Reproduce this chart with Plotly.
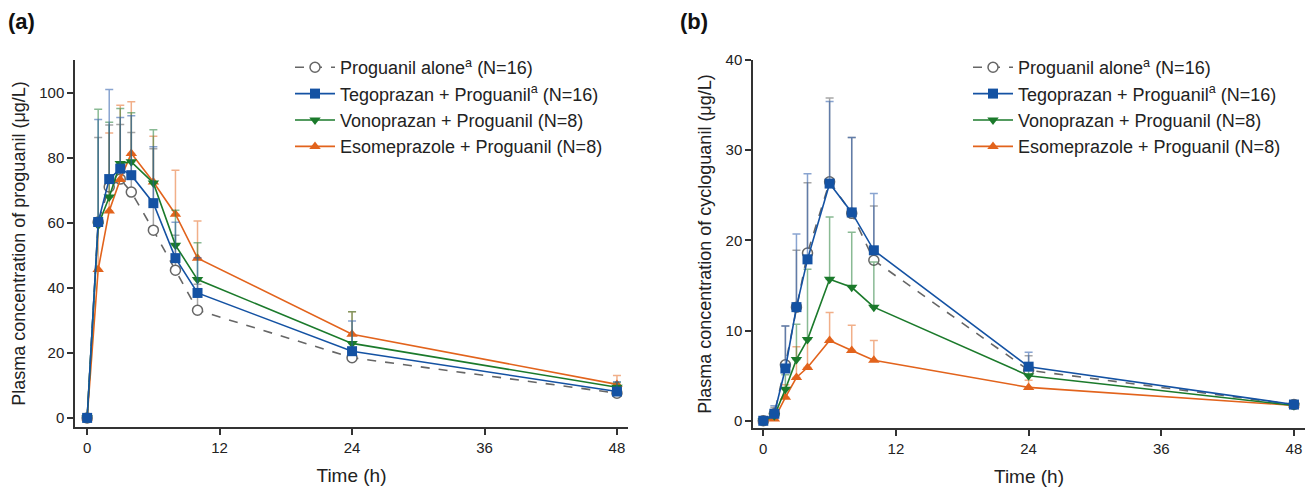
import plotly.graph_objects as go

time_h = [0, 1, 2, 3, 4, 6, 8, 10, 24, 48]

# Panel (a) proguanil (ug/L): mean and upper SD
pa_alone = [0, 60.2, 71.0, 73.4, 69.4, 57.7, 45.4, 33.1, 18.5, 7.6]
pa_alone_sd = [0, 26.0, 19.0, 16.8, 18.3, 25.0, 10.7, 8.0, 7.0, 1.5]
pa_tego = [0, 60.2, 73.4, 76.6, 74.6, 66.0, 49.1, 38.4, 20.5, 8.1]
pa_tego_sd = [0, 31.5, 27.5, 15.7, 18.3, 17.3, 11.0, 10.8, 9.3, 3.0]
pa_vono = [0, 59.2, 67.9, 78.2, 78.7, 72.2, 53.1, 42.5, 22.9, 9.4]
pa_vono_sd = [0, 35.7, 23.0, 16.9, 15.1, 16.4, 10.7, 11.3, 9.7, 1.5]
pa_eso = [0, 45.6, 63.6, 73.3, 81.3, 72.5, 62.6, 49.1, 25.7, 10.3]
pa_eso_sd = [0, 15.7, 24.0, 22.8, 15.9, 14.1, 13.5, 11.4, 6.9, 2.7]

# Panel (b) cycloguanil (ug/L)
pb_alone = [0, 0.78, 6.2, 12.6, 18.6, 26.5, 23.0, 17.8, 5.6, 1.8]
pb_alone_sd = [0, 0.7, 4.3, 6.3, 7.8, 9.3, 8.4, 6.0, 1.6, 0.3]
pb_tego = [0, 0.78, 5.8, 12.6, 17.9, 26.3, 23.1, 18.9, 6.0, 1.8]
pb_tego_sd = [0, 0.9, 4.7, 8.1, 9.5, 9.1, 8.3, 6.3, 1.6, 0.3]
pb_vono = [0, 0.55, 3.5, 6.8, 9.0, 15.7, 14.8, 12.6, 5.0, 1.7]
pb_vono_sd = [0, 0.5, 1.6, 3.9, 7.8, 6.9, 6.1, 5.0, 1.4, 0.3]
pb_eso = [0, 0.2, 2.6, 4.8, 5.9, 8.9, 7.8, 6.7, 3.7, 1.7]
pb_eso_sd = [0, 0.3, 1.4, 3.4, 3.2, 3.1, 2.8, 2.2, 0.8, 0.3]

names = ["Proguanil alone<sup>a</sup> (N=16)",
         "Tegoprazan + Proguanil<sup>a</sup> (N=16)",
         "Vonoprazan + Proguanil (N=8)",
         "Esomeprazole + Proguanil (N=8)"]

x_ticks = [0, 12, 24, 36, 48]

FONT = "Liberation Sans, Arial, sans-serif"
TXT = "#222222"
AX = "#333333"

styles = {
    "alone": dict(color="#666666", err="rgba(130,130,130,0.7)", symbol="circle", size=10, dash="dash", fill="white"),
    "tego": dict(color="#1452a3", err="rgba(40,90,170,0.55)", symbol="square", size=10, dash="solid", fill="#1452a3"),
    "vono": dict(color="#1b7a2b", err="rgba(40,130,60,0.55)", symbol="triangle-down", size=10, dash="solid", fill="#1b7a2b"),
    "eso": dict(color="#e2631c", err="rgba(230,110,40,0.55)", symbol="triangle-up", size=10, dash="solid", fill="#e2631c"),
}

fig = go.Figure()

def add(key, y, sd, name, rank, xa, ya, legend):
    s = styles[key]
    fig.add_trace(go.Scatter(
        x=time_h, y=y, name=name, mode="lines+markers",
        xaxis=xa, yaxis=ya, legend=legend, legendrank=rank,
        legendgroup=legend + key,
        line=dict(color=s["color"], width=1.6, dash=s["dash"]),
        marker=dict(symbol=s["symbol"], size=s["size"], color=s["fill"],
                    line=dict(color=s["color"], width=1.5 if key == "alone" else 0)),
        error_y=dict(type="data", symmetric=False, array=sd,
                     arrayminus=[0] * len(sd), color=s["err"], thickness=1.5, width=4),
    ))

order = [("alone", 1, 0), ("eso", 4, 3), ("vono", 3, 2), ("tego", 2, 1)]
da = {"alone": (pa_alone, pa_alone_sd), "tego": (pa_tego, pa_tego_sd),
      "vono": (pa_vono, pa_vono_sd), "eso": (pa_eso, pa_eso_sd)}
db = {"alone": (pb_alone, pb_alone_sd), "tego": (pb_tego, pb_tego_sd),
      "vono": (pb_vono, pb_vono_sd), "eso": (pb_eso, pb_eso_sd)}
for key, rank, ni in order:
    add(key, da[key][0], da[key][1], names[ni], rank, "x", "y", "legend")
for key, rank, ni in order:
    add(key, db[key][0], db[key][1], names[ni], rank, "x2", "y2", "legend2")

W, H = 1306, 488
def px_x(p):
    return p / W
def px_y(p):
    return 1 - p / H

axis_common = dict(showline=True, linecolor=AX, linewidth=1.5, ticks="outside",
                   tickcolor=AX, ticklen=6, tickwidth=1.5, showgrid=False, zeroline=False,
                   tickfont=dict(size=15, color=TXT, family=FONT), automargin=False)

legend_common = dict(font=dict(size=18, color=TXT, family=FONT), bgcolor="rgba(0,0,0,0)",
                     xanchor="left", yanchor="top", tracegroupgap=0, itemwidth=40,
                     traceorder="grouped")

fig.update_layout(
    width=W, height=H,
    margin=dict(l=0, r=0, t=0, b=0),
    paper_bgcolor="white", plot_bgcolor="white",
    font=dict(family=FONT, color=TXT),
    xaxis=dict(domain=[px_x(75), px_x(628)], range=[-1.1, 49], tickvals=x_ticks, anchor="y",
               title=dict(text="Time (h)", font=dict(size=19, color=TXT), standoff=14), **axis_common),
    yaxis=dict(domain=[px_y(427), px_y(60)], range=[-2.8, 110], tickvals=[0, 20, 40, 60, 80, 100], anchor="x",
               title=dict(text="Plasma concentration of proguanil (\u03bcg/L)", font=dict(size=18, color=TXT), standoff=9),
               **axis_common),
    xaxis2=dict(domain=[px_x(753), px_x(1305)], range=[-0.93, 49], tickvals=x_ticks, anchor="y2",
                title=dict(text="Time (h)", font=dict(size=19, color=TXT), standoff=14), **axis_common),
    yaxis2=dict(domain=[px_y(428), px_y(60)], range=[-0.8, 40], tickvals=[0, 10, 20, 30, 40], anchor="x2",
                title=dict(text="Plasma concentration of cycloguanil (\u03bcg/L)", font=dict(size=18, color=TXT), standoff=9),
                **axis_common),
    legend=dict(x=px_x(290), y=px_y(49), **legend_common),
    legend2=dict(x=px_x(968), y=px_y(49), **legend_common),
    annotations=[
        dict(text="<b>(a)</b>", x=px_x(6), y=px_y(22), xref="paper", yref="paper",
             showarrow=False, xanchor="left", yanchor="middle", font=dict(size=22, color="#111", family=FONT)),
        dict(text="<b>(b)</b>", x=px_x(678), y=px_y(22), xref="paper", yref="paper",
             showarrow=False, xanchor="left", yanchor="middle", font=dict(size=22, color="#111", family=FONT)),
    ],
    showlegend=True,
)

fig.write_html("out.html", config={"displayModeBar": False},
               post_script="document.body.style.margin='0';document.body.style.overflow='hidden';")
